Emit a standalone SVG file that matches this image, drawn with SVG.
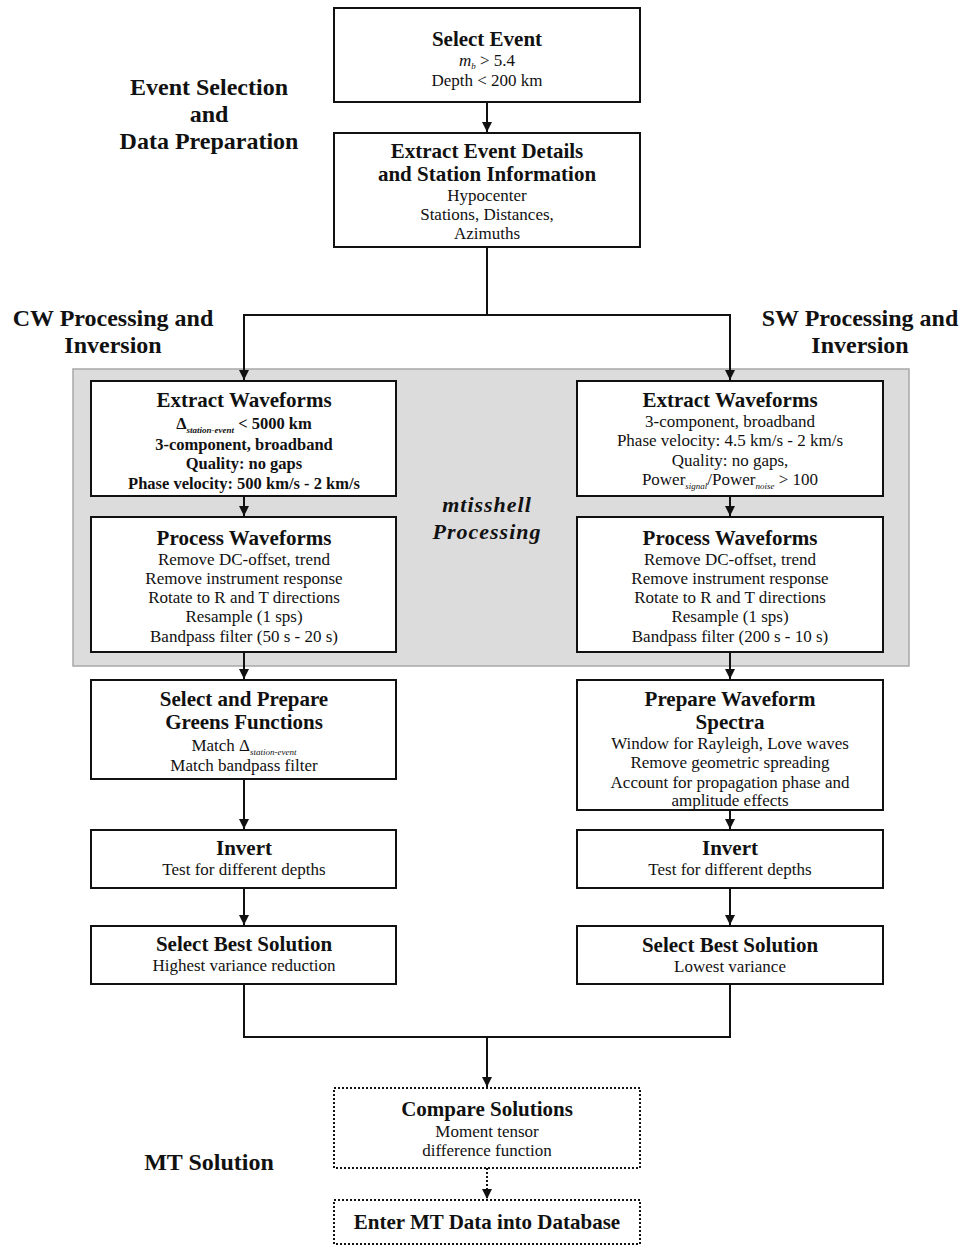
<svg xmlns="http://www.w3.org/2000/svg" width="963" height="1245" viewBox="0 0 963 1245">
<defs>
<marker id="ah" markerWidth="10" markerHeight="10" refX="10" refY="5" orient="auto" markerUnits="userSpaceOnUse">
<path d="M0,0 L10,5 L0,10 Z" fill="#111"/>
</marker>
<style>
text{font-family:"Liberation Serif","Times New Roman",serif;fill:#111;text-anchor:middle}
.box{fill:#fff;stroke:#111;stroke-width:2}
.dot{fill:#fff;stroke:#111;stroke-width:2;stroke-dasharray:2 2}
.t{font-size:21px;font-weight:bold}
.b{font-size:17px}
.bb{font-size:16.5px;font-weight:bold}
.lab{font-size:24px;font-weight:bold}
.con{fill:none;stroke:#111;stroke-width:2}
.sub{font-size:9px;font-style:italic}
</style>
</defs>
<rect width="963" height="1245" fill="#fff"/>

<g id="labels">
<text class="lab" x="209" y="95">Event Selection</text>
<text class="lab" x="209" y="122">and</text>
<text class="lab" x="209" y="149">Data Preparation</text>
<text class="lab" x="113" y="326">CW Processing and</text>
<text class="lab" x="113" y="353">Inversion</text>
<text class="lab" x="860" y="326">SW Processing and</text>
<text class="lab" x="860" y="353">Inversion</text>
<text class="lab" x="209" y="1170">MT Solution</text>
</g>

<g id="mtisshell">
<rect x="73" y="369" width="836" height="297" fill="#dcdcdc" stroke="#a8a8a8" stroke-width="1.5"/>
<text x="487" y="512" style="font-size:22px;font-weight:bold;font-style:italic;letter-spacing:1px">mtisshell</text>
<text x="487" y="539" style="font-size:22px;font-weight:bold;font-style:italic;letter-spacing:1px">Processing</text>
</g>

<g id="connectors">
<line class="con" x1="487" y1="102" x2="487" y2="132" marker-end="url(#ah)"/>
<polyline class="con" points="487,247 487,315 244,315 244,380" marker-end="url(#ah)"/>
<polyline class="con" points="487,315 730,315 730,380" marker-end="url(#ah)"/>
<line class="con" x1="244" y1="496" x2="244" y2="516" marker-end="url(#ah)"/>
<line class="con" x1="244" y1="652" x2="244" y2="679" marker-end="url(#ah)"/>
<line class="con" x1="244" y1="779" x2="244" y2="829" marker-end="url(#ah)"/>
<line class="con" x1="244" y1="888" x2="244" y2="925" marker-end="url(#ah)"/>
<line class="con" x1="730" y1="496" x2="730" y2="516" marker-end="url(#ah)"/>
<line class="con" x1="730" y1="652" x2="730" y2="679" marker-end="url(#ah)"/>
<line class="con" x1="730" y1="810" x2="730" y2="829" marker-end="url(#ah)"/>
<line class="con" x1="730" y1="888" x2="730" y2="925" marker-end="url(#ah)"/>
<polyline class="con" points="244,984 244,1037 730,1037 730,984"/>
<line class="con" x1="487" y1="1037" x2="487" y2="1087" marker-end="url(#ah)"/>
<line class="con" x1="487" y1="1168" x2="487" y2="1199" stroke-dasharray="2 2" marker-end="url(#ah)"/>
</g>

<g id="select-event">
<rect class="box" x="334" y="8" width="306" height="94"/>
<text class="t" x="487" y="46">Select Event</text>
<text class="b" x="487" y="66"><tspan font-style="italic">m</tspan><tspan font-style="italic" font-size="9" dy="3">b</tspan><tspan dy="-3"> &gt; 5.4</tspan></text>
<text class="b" x="487" y="86">Depth &lt; 200 km</text>
</g>

<g id="extract-event">
<rect class="box" x="334" y="133" width="306" height="114"/>
<text class="t" x="487" y="158">Extract Event Details</text>
<text class="t" x="487" y="181">and Station Information</text>
<text class="b" x="487" y="201">Hypocenter</text>
<text class="b" x="487" y="220">Stations, Distances,</text>
<text class="b" x="487" y="239">Azimuths</text>
</g>

<g id="cw-extract">
<rect class="box" x="91" y="381" width="305" height="115"/>
<text class="t" x="244" y="407">Extract Waveforms</text>
<text class="bb" x="244" y="429">Δ<tspan class="sub" font-weight="bold" dy="4">station-event</tspan><tspan dy="-4">  &lt; 5000 km</tspan></text>
<text class="bb" x="244" y="450">3-component, broadband</text>
<text class="bb" x="244" y="469">Quality: no gaps</text>
<text class="bb" x="244" y="489">Phase velocity: 500 km/s - 2 km/s</text>
</g>

<g id="cw-process">
<rect class="box" x="91" y="517" width="305" height="135"/>
<text class="t" x="244" y="545">Process Waveforms</text>
<text class="b" x="244" y="565">Remove DC-offset, trend</text>
<text class="b" x="244" y="584">Remove instrument response</text>
<text class="b" x="244" y="603">Rotate to R and T directions</text>
<text class="b" x="244" y="622">Resample (1 sps)</text>
<text class="b" x="244" y="642">Bandpass filter (50 s - 20 s)</text>
</g>

<g id="cw-greens">
<rect class="box" x="91" y="680" width="305" height="99"/>
<text class="t" x="244" y="706">Select and Prepare</text>
<text class="t" x="244" y="729">Greens Functions</text>
<text class="b" x="244" y="751">Match Δ<tspan class="sub" dy="4">station-event</tspan></text>
<text class="b" x="244" y="771">Match bandpass filter</text>
</g>

<g id="cw-invert">
<rect class="box" x="91" y="830" width="305" height="58"/>
<text class="t" x="244" y="855">Invert</text>
<text class="b" x="244" y="875">Test for different depths</text>
</g>

<g id="cw-best">
<rect class="box" x="91" y="926" width="305" height="58"/>
<text class="t" x="244" y="951">Select Best Solution</text>
<text class="b" x="244" y="971">Highest variance reduction</text>
</g>

<g id="sw-extract">
<rect class="box" x="577" y="381" width="306" height="115"/>
<text class="t" x="730" y="407">Extract Waveforms</text>
<text class="b" x="730" y="427">3-component, broadband</text>
<text class="b" x="730" y="446">Phase velocity: 4.5 km/s - 2 km/s</text>
<text class="b" x="730" y="466">Quality: no gaps,</text>
<text class="b" x="730" y="485">Power<tspan class="sub" dy="4">signal</tspan><tspan dy="-4">/Power</tspan><tspan class="sub" dy="4">noise</tspan><tspan dy="-4"> &gt; 100</tspan></text>
</g>

<g id="sw-process">
<rect class="box" x="577" y="517" width="306" height="135"/>
<text class="t" x="730" y="545">Process Waveforms</text>
<text class="b" x="730" y="565">Remove DC-offset, trend</text>
<text class="b" x="730" y="584">Remove instrument response</text>
<text class="b" x="730" y="603">Rotate to R and T directions</text>
<text class="b" x="730" y="622">Resample (1 sps)</text>
<text class="b" x="730" y="642">Bandpass filter (200 s - 10 s)</text>
</g>

<g id="sw-spectra">
<rect class="box" x="577" y="680" width="306" height="130"/>
<text class="t" x="730" y="706">Prepare Waveform</text>
<text class="t" x="730" y="729">Spectra</text>
<text class="b" x="730" y="749">Window for Rayleigh, Love waves</text>
<text class="b" x="730" y="768">Remove geometric spreading</text>
<text class="b" x="730" y="788">Account for propagation phase and</text>
<text class="b" x="730" y="806">amplitude effects</text>
</g>

<g id="sw-invert">
<rect class="box" x="577" y="830" width="306" height="58"/>
<text class="t" x="730" y="855">Invert</text>
<text class="b" x="730" y="875">Test for different depths</text>
</g>

<g id="sw-best">
<rect class="box" x="577" y="926" width="306" height="58"/>
<text class="t" x="730" y="952">Select Best Solution</text>
<text class="b" x="730" y="972">Lowest variance</text>
</g>

<g id="compare">
<rect class="dot" x="334" y="1088" width="306" height="80"/>
<text class="t" x="487" y="1116">Compare Solutions</text>
<text class="b" x="487" y="1137">Moment tensor</text>
<text class="b" x="487" y="1156">difference function</text>
</g>

<g id="enter-db">
<rect class="dot" x="334" y="1200" width="306" height="44"/>
<text class="t" x="487" y="1229">Enter MT Data into Database</text>
</g>
</svg>
